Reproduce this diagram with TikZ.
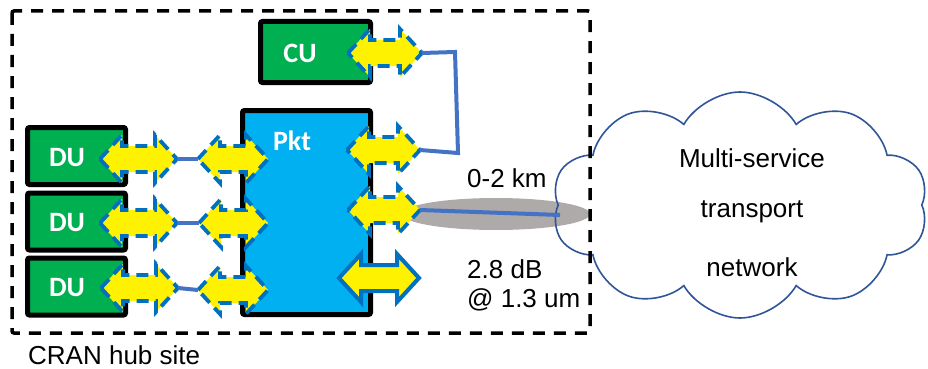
\documentclass[tikz,border=0pt]{standalone}
\usepackage{fontspec}
\setmainfont{Liberation Sans}
\newfontfamily\calib{Carlito}
\usetikzlibrary{shapes.symbols,shapes.geometric}
\definecolor{dugreen}{HTML}{00B050}
\definecolor{pktcyan}{HTML}{00B0F0}
\definecolor{arrblue}{HTML}{0070C0}
\definecolor{lnblue}{HTML}{4472C4}
\definecolor{cloudblue}{HTML}{2F5597}
\definecolor{fibergray}{HTML}{AEAAAA}
\tikzset{
  box/.style={draw=black, line width=5pt, rounded corners=2pt, inner sep=0pt},
  dubox/.style={box, fill=dugreen, minimum width=98pt, minimum height=57pt},
  boxlbl/.style={text=white, font=\calib\bfseries\fontsize{28}{30}\selectfont, inner sep=0pt},
  txt/.style={font=\fontsize{26}{30}\selectfont, inner sep=0pt},
  yarr/.style={fill=yellow, draw=arrblue, line width=3.8pt, dash pattern=on 12pt off 7pt, line join=miter},
  sarr/.style={fill=yellow, draw=arrblue, line width=4pt, line join=miter},
  link/.style={draw=lnblue, line width=4pt},
}
\newcommand\yarrow[5]{%
  \path[#5] (#2,#4) -- (#2+22,#4-24) -- (#2+22,#4-13) -- (#3-22,#4-13) -- (#3-22,#4-24) -- (#3,#4)
     -- (#3-22,#4+24) -- (#3-22,#4+13) -- (#2+22,#4+13) -- (#2+22,#4+24) -- cycle;
  \coordinate (#1-l) at (#2,#4);
  \coordinate (#1-r) at (#3,#4);}
\begin{document}
\begin{tikzpicture}[x=1pt,y=-1pt]
\useasboundingbox (0,0) rectangle (928,369);
% fiber ellipse
\node[ellipse, fill=fibergray, minimum width=188pt, minimum height=32pt, inner sep=0pt] (fib) at (496,214) {};
% cloud
\node[cloud, cloud puffs=10, cloud puff arc=120, aspect=1.65, draw=cloudblue, line width=1.6pt,
      minimum width=376pt, minimum height=226pt, inner sep=0pt] (net) at (740,205) {};
\node[txt] (t1) at (752,158) {Multi-service};
\node[txt] (t2) at (752,212) {transport};
\node[txt] (t3) at (752,267) {network};
% hub site dashed box
\draw[line width=3.5pt, dash pattern=on 12pt off 9pt, rounded corners=2pt] (12,11) rectangle (590,333);
\node[txt, anchor=west] (hub) at (28,355) {CRAN hub site};
% boxes
\node[box, fill=dugreen, minimum width=110pt, minimum height=61pt] (cu) at (315.5,52) {};
\node[boxlbl] (culbl) at (300,53) {CU};
\node[box, fill=pktcyan, minimum width=128pt, minimum height=204pt] (pkt) at (306.5,212.5) {};
\node[boxlbl] (pktlbl) at (292,141) {Pkt};
\node[dubox] (du1) at (76.5,156) {};
\node[dubox] (du2) at (76.5,221.5) {};
\node[dubox] (du3) at (76.5,286.5) {};
\node[boxlbl] (du1lbl) at (67,158) {DU};
\node[boxlbl] (du2lbl) at (67,223) {DU};
\node[boxlbl] (du3lbl) at (67,288) {DU};
% double arrows
\yarrow{a1}{100}{177}{159}{yarr}
\yarrow{a2}{100}{177}{223}{yarr}
\yarrow{a3}{101}{178}{288}{yarr}
\yarrow{b1}{198}{268}{159}{yarr}
\yarrow{b2}{199}{268}{223}{yarr}
\yarrow{b3}{198}{268}{290}{yarr}
\yarrow{c1}{347}{420}{150}{yarr}
\yarrow{c2}{348}{420}{210}{yarr}
\yarrow{c3}{339}{419}{278}{sarr}
\yarrow{cu}{348}{422}{53}{yarr}
% links
\draw[link] (a1-r) -- (b1-l);
\draw[link] (a2-r) -- (b2-l);
\draw[link] (a3-r) -- (b3-l);
\coordinate (k1) at (455,52);
\coordinate (k2) at (458,153);
\draw[link] (cu-r) -- (k1) -- (k2) -- (c1-r);
\coordinate (fe) at (560,215);
\draw[link] (c2-r) -- (fe);
% labels
\node[txt, anchor=west] (km) at (467,178) {0-2 km};
\node[txt, anchor=west] (db) at (467,269) {2.8 dB};
\node[txt, anchor=west] (um) at (467,300) {@ 1.3 um};
\end{tikzpicture}
\end{document}
